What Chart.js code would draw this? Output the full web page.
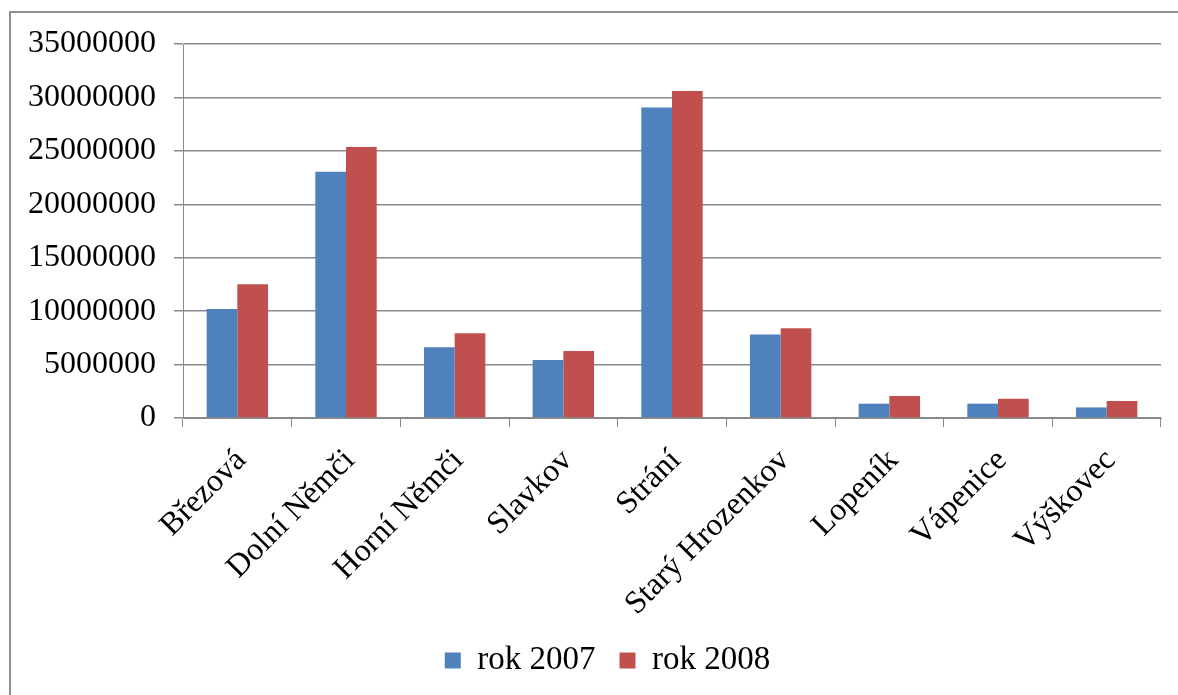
<!DOCTYPE html>
<html>
<head>
<meta charset="utf-8">
<script src="https://cdn.jsdelivr.net/npm/chart.js@4/dist/chart.umd.min.js"></script>
<style>
  html, body { margin: 0; padding: 0; background: #fff; overflow: hidden; }
  #wrap { position: relative; width: 1178px; height: 695px; }
  #frame { position: absolute; left: 9px; top: 11px; width: 1200px; height: 720px;
           border-left: 2px solid #8e8e8e; border-top: 2px solid #8e8e8e; }
  #mycanvas { position: absolute; left: 0; top: 0; }
</style>
</head>
<body>
<div id="wrap">
  <div id="frame"></div>
  <canvas id="mycanvas" width="1178" height="695"></canvas>
</div>
<script>
// obce a hodnoty podle let
var obce = ['Březová', 'Dolní Němči', 'Horní Němči', 'Slavkov', 'Strání',
            'Starý Hrozenkov', 'Lopeník', 'Vápenice', 'Výškovec'];
var rok2007 = [10210000, 23040000, 6630000, 5420000, 29060000, 7810000, 1340000, 1340000, 990000];
var rok2008 = [12520000, 25350000, 7940000, 6260000, 30610000, 8410000, 2060000, 1800000, 1590000];
var yTicks = [0, 5000000, 10000000, 15000000, 20000000, 25000000, 30000000, 35000000];

var serif = "'Liberation Serif', 'Times New Roman', serif";
var gridColor = '#8a8a8a';

var chartdata = {
  labels: obce,
  datasets: [
    {
      label: 'rok 2007',
      backgroundColor: '#4F81BD',
      data: rok2007
    },
    {
      label: 'rok 2008',
      backgroundColor: '#C0504D',
      data: rok2008
    }
  ]
};

// legenda je v originale trochu vpravo od stredu
var posunLegendy = {
  id: 'posunLegendy',
  afterLayout: function(chart) {
    if (chart.legend) {
      chart.legend.left += 22;
      chart.legend.right += 22;
    }
  }
};

var ctx = document.getElementById('mycanvas');

var barGraph = new Chart(ctx, {
  type: 'bar',
  data: chartdata,
  plugins: [posunLegendy],
  options: {
    responsive: false,
    animation: false,
    devicePixelRatio: 1,
    datasets: {
      bar: { categoryPercentage: 0.565, barPercentage: 1.0 }
    },
    layout: { padding: { left: 10, top: 44, right: 17, bottom: 8 } },
    plugins: {
      tooltip: { enabled: false },
      legend: {
        position: 'bottom',
        labels: {
          color: '#000',
          font: { family: serif, size: 33 },
          boxWidth: 16,
          boxHeight: 16,
          padding: 24
        }
      }
    },
    scales: {
      x: {
        grid: { drawOnChartArea: false, drawTicks: true, tickLength: 9, color: gridColor, offset: true },
        border: { display: true, color: gridColor, width: 1 },
        ticks: {
          color: '#000',
          font: { family: serif, size: 32 },
          minRotation: 45,
          maxRotation: 45,
          autoSkip: false,
          labelOffset: 4,
          padding: 15
        },
        afterFit: function(scale) { scale.height = 202; }
      },
      y: {
        min: 0,
        max: 35000000,
        afterBuildTicks: function(scale) {
          scale.ticks = yTicks.map(function(v) { return { value: v }; });
        },
        grid: { color: gridColor, lineWidth: 1.5, tickLength: 9 },
        border: { display: true, color: gridColor, width: 1 },
        ticks: {
          color: '#000',
          font: { family: serif, size: 32 },
          padding: 18,
          callback: function(v) { return String(v); }
        },
        afterFit: function(scale) { scale.width = 173; }
      }
    }
  }
});
</script>
</body>
</html>
